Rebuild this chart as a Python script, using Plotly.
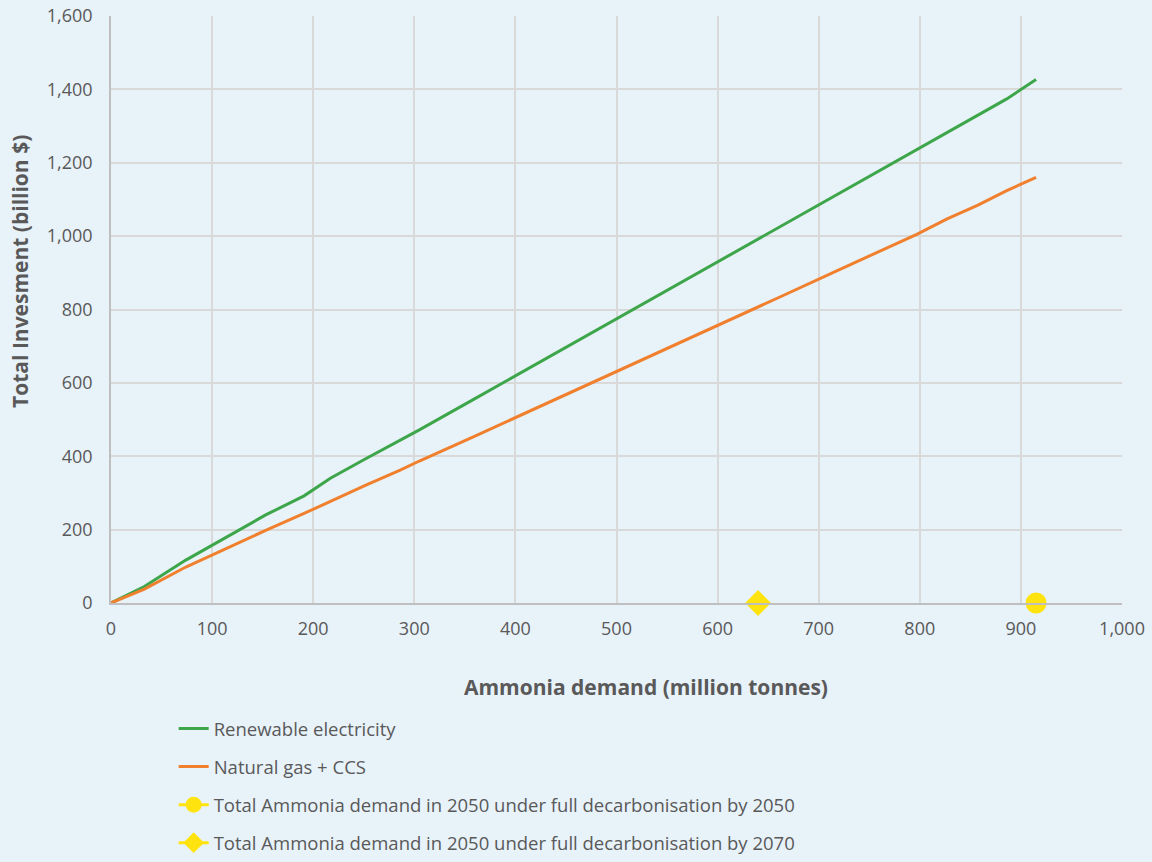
import plotly.graph_objects as go

# Ammonia demand (million tonnes) at each computed point
demand = [0, 33, 74, 115, 153, 191, 217, 251, 286, 305, 360, 420, 480, 540,
          600, 660, 720, 797, 827, 857, 886, 915]

# Total investment (billion $)
renewable = [0, 45, 117, 180, 240, 292, 340, 392, 443, 472, 557, 650, 743, 836,
             930, 1023, 1116, 1236, 1282, 1328, 1374, 1427]
gas_ccs = [0, 38, 98, 150, 198, 244, 277, 320, 362, 387, 455, 530, 605, 680,
           757, 832, 908, 1005, 1047, 1084, 1124, 1160]

# 2050 demand markers
demand_2050_full = [915]
demand_2050_2070 = [640]
marker_y = [0]

text_col = '#595959'
bg = '#E8F2F9'
grid = '#D9D9D9'
font_family = 'Open Sans, Lato, sans-serif'

fig = go.Figure()

fig.add_trace(go.Scatter(
    x=demand, y=renewable, mode='lines', name='Renewable electricity',
    line=dict(color='#3DA64A', width=3), legendgroup='a'
))
fig.add_trace(go.Scatter(
    x=demand, y=gas_ccs, mode='lines', name='Natural gas + CCS',
    line=dict(color='#F0802E', width=3), legendgroup='b'
))
fig.add_trace(go.Scatter(
    x=demand_2050_full, y=marker_y, mode='lines+markers',
    name='Total Ammonia demand in 2050 under full decarbonisation by 2050',
    line=dict(color='#FFE30F', width=3),
    marker=dict(symbol='circle', size=21, color='#FFE30F'),
    cliponaxis=False, legendgroup='c'
))
fig.add_trace(go.Scatter(
    x=demand_2050_2070, y=marker_y, mode='lines+markers',
    name='Total Ammonia demand in 2050 under full decarbonisation by 2070',
    line=dict(color='#FFE30F', width=3),
    marker=dict(symbol='diamond', size=20, color='#FFE30F'),
    cliponaxis=False, legendgroup='d'
))

# axis titles as annotations (they sit off-centre in the original)
fig.add_annotation(
    text='<b>Ammonia demand (million tonnes)</b>', xref='paper', yref='paper',
    x=0.529, y=-0.143, xanchor='center', yanchor='middle', showarrow=False,
    font=dict(size=21, color=text_col)
)
fig.add_annotation(
    text='<b>Total Invesment (billion $)</b>', xref='paper', yref='paper',
    x=-0.09, y=0.564, xanchor='center', yanchor='middle', textangle=-90,
    showarrow=False, font=dict(size=21, color=text_col)
)

fig.update_layout(
    width=1152,
    height=862,
    margin=dict(l=111, r=30, t=16, b=259),
    paper_bgcolor=bg,
    plot_bgcolor=bg,
    font=dict(family=font_family, color=text_col, size=17),
    xaxis=dict(
        range=[0, 1000], dtick=100, tickformat=',d', automargin=False,
        showgrid=True, gridcolor=grid, gridwidth=1.5,
        zeroline=False, showline=True, linecolor='#BFBFBF', linewidth=1.5,
        ticks='', ticklabelstandoff=9, tickfont=dict(size=18),
    ),
    yaxis=dict(
        range=[0, 1600], dtick=200, tickformat=',d', automargin=False,
        showgrid=True, gridcolor=grid, gridwidth=1.5,
        zeroline=False, showline=True, linecolor='#BFBFBF', linewidth=1.5,
        ticks='', ticklabelstandoff=13, tickfont=dict(size=18),
    ),
    legend=dict(
        x=0.062, y=0, xanchor='left', yanchor='bottom', yref='container',
        orientation='v', tracegroupgap=11,
        font=dict(size=18.5, color=text_col),
        bgcolor='rgba(0,0,0,0)', itemwidth=30,
    ),
)

fig.write_html("out.html", config={'displayModeBar': False},
               post_script="document.body.style.margin='0px';")
